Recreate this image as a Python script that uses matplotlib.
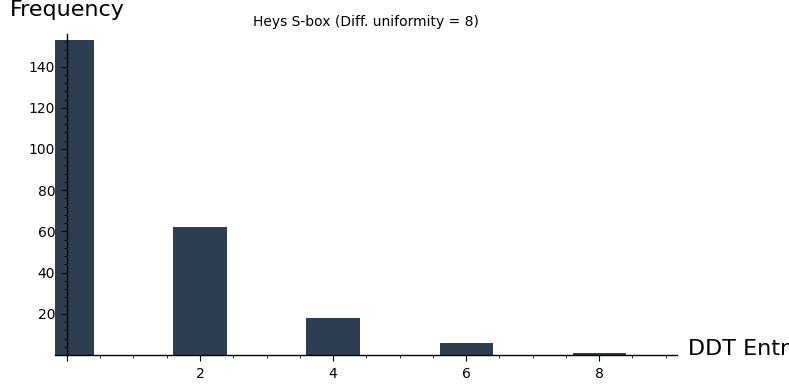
import matplotlib
matplotlib.use('Agg')
import matplotlib.pyplot as plt
from matplotlib.ticker import MultipleLocator, FixedLocator

# DDT entry values and how often each one occurs
entries = [0, 2, 4, 6, 8]
counts = [153, 62, 18, 6, 1]
xticks = [0, 2, 4, 6, 8]
xticklabels = ['', '2', '4', '6', '8']
yticks = [20, 40, 60, 80, 100, 120, 140]

fig = plt.figure(figsize=(7.89, 3.89), dpi=100)
ax = fig.add_axes([55 / 789, 34 / 389, (677 - 55) / 789, (355 - 34) / 389])

ax.bar(entries, counts, width=0.8, color='#2c3e50', zorder=1)

ax.set_xlim(-0.18, 9.17)
ax.set_ylim(0, 155.8)

# sage-like axes crossing at the origin
ax.spines['left'].set_position(('data', 0))
ax.spines['bottom'].set_position(('data', 0))
ax.spines['top'].set_visible(False)
ax.spines['right'].set_visible(False)
for s in ('left', 'bottom'):
    ax.spines[s].set_linewidth(1.0)
    ax.spines[s].set_zorder(3)

ax.xaxis.set_major_locator(FixedLocator(xticks))
ax.set_xticklabels(xticklabels)
ax.xaxis.set_minor_locator(MultipleLocator(0.5))
ax.yaxis.set_major_locator(FixedLocator(yticks))
ax.yaxis.set_minor_locator(MultipleLocator(4))
ax.tick_params(which='major', direction='out', length=4.5, width=0.8, labelsize=10, pad=4)
ax.tick_params(which='minor', direction='out', length=2.5, width=0.6)

ax.set_title('Heys S-box (Diff. uniformity = 8)', fontsize=10, pad=6)

fig.text(10 / 789, 1 - 16 / 389, 'Frequency', fontsize=16, ha='left', va='baseline')
fig.text(688 / 789, 1 - 349 / 389, 'DDT Entry', fontsize=16, ha='left', va='center')

fig.savefig('out.png', dpi=100)
